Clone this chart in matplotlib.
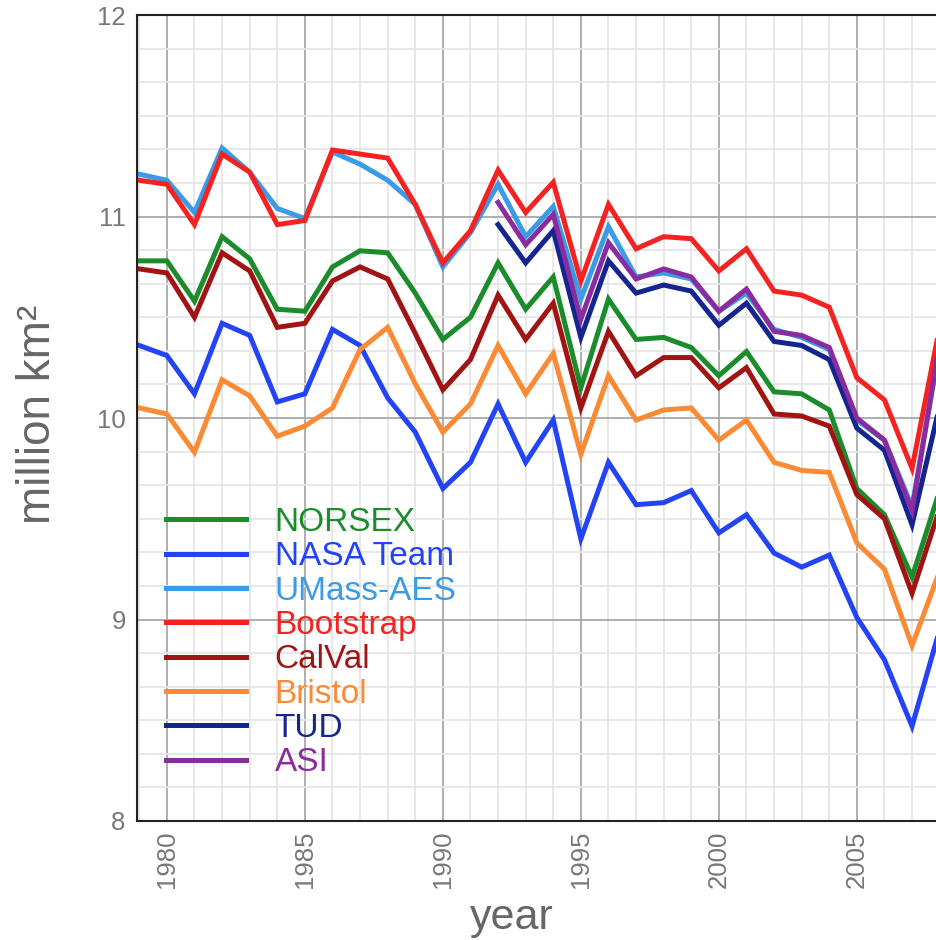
import numpy as np
import matplotlib
matplotlib.use("Agg")
from matplotlib import pyplot as plt
from matplotlib.ticker import MultipleLocator

plt.rcParams['font.family'] = ['Liberation Sans', 'DejaVu Sans']

# sea ice extent, million km2
years = np.arange(1979, 2009)
years_late = np.arange(1992, 2009)

norsex = [10.78, 10.78, 10.58, 10.90, 10.79, 10.54, 10.53, 10.75, 10.83, 10.82,
          10.62, 10.39, 10.50, 10.77, 10.54, 10.70, 10.15, 10.59, 10.39, 10.40,
          10.35, 10.21, 10.33, 10.13, 10.12, 10.04, 9.65, 9.52, 9.21, 9.64]
nasa_team = [10.36, 10.31, 10.12, 10.47, 10.41, 10.08, 10.12, 10.44, 10.36, 10.10,
             9.93, 9.65, 9.78, 10.07, 9.78, 9.99, 9.40, 9.78, 9.57, 9.58,
             9.64, 9.43, 9.52, 9.33, 9.26, 9.32, 9.01, 8.80, 8.47, 8.95]
umass_aes = [11.21, 11.18, 11.02, 11.34, 11.22, 11.04, 10.99, 11.32, 11.26, 11.18,
             11.06, 10.75, 10.92, 11.16, 10.90, 11.05, 10.59, 10.95, 10.70, 10.72,
             10.69, 10.53, 10.62, 10.44, 10.40, 10.34, 9.99, 9.89, 9.56, 10.35]
bootstrap = [11.18, 11.16, 10.96, 11.31, 11.22, 10.96, 10.98, 11.33, 11.31, 11.29,
             11.06, 10.77, 10.93, 11.23, 11.02, 11.17, 10.68, 11.06, 10.84, 10.90,
             10.89, 10.73, 10.84, 10.63, 10.61, 10.55, 10.20, 10.09, 9.75, 10.45]
calval = [10.74, 10.72, 10.50, 10.82, 10.73, 10.45, 10.47, 10.68, 10.75, 10.69,
          10.42, 10.14, 10.29, 10.61, 10.39, 10.57, 10.05, 10.43, 10.21, 10.30,
          10.30, 10.15, 10.25, 10.02, 10.01, 9.96, 9.62, 9.50, 9.13, 9.55]
bristol = [10.05, 10.02, 9.83, 10.19, 10.11, 9.91, 9.96, 10.05, 10.34, 10.45,
           10.17, 9.93, 10.07, 10.36, 10.12, 10.32, 9.82, 10.21, 9.99, 10.04,
           10.05, 9.89, 9.99, 9.78, 9.74, 9.73, 9.38, 9.25, 8.87, 9.24]
tud = [10.96, 10.77, 10.93, 10.40, 10.78, 10.62, 10.66, 10.63, 10.46, 10.57,
       10.38, 10.36, 10.29, 9.95, 9.84, 9.47, 10.06]
asi = [11.07, 10.86, 11.01, 10.49, 10.87, 10.69, 10.74, 10.70, 10.53, 10.64,
       10.43, 10.41, 10.35, 10.00, 9.89, 9.54, 10.37]

series = [
    ("NORSEX", years, norsex, "#1b8c2b"),
    ("NASA Team", years, nasa_team, "#2344f5"),
    ("UMass-AES", years, umass_aes, "#3a9be6"),
    ("Bootstrap", years, bootstrap, "#f52222"),
    ("CalVal", years, calval, "#a11414"),
    ("Bristol", years, bristol, "#fb8a35"),
    ("TUD", years_late, tud, "#152590"),
    ("ASI", years_late, asi, "#8a2ba0"),
]

fig = plt.figure(figsize=(9.37, 9.40), dpi=100)
# the axes runs past the right edge of the figure
ax = fig.add_axes([0.146, 0.1266, 0.901, 0.8574])

for name, xs, ys, col in series:
    ax.plot(xs, ys, color=col, lw=3.6, label=name, solid_joinstyle='miter')

ax.set_xlim(1978.91, 2009.5)
ax.set_ylim(8, 12)

ax.xaxis.set_major_locator(MultipleLocator(5))
ax.xaxis.set_minor_locator(MultipleLocator(1))
ax.yaxis.set_major_locator(MultipleLocator(1))
ax.yaxis.set_minor_locator(MultipleLocator(1 / 6))

ax.grid(which='major', color='#a8a8a8', lw=1.3)
ax.grid(which='minor', color='#e6e6e6', lw=1.3)
ax.set_axisbelow(True)

ax.tick_params(which='both', length=0)
ax.tick_params(axis='y', labelsize=18.5, labelcolor='#777777', pad=8)
ax.tick_params(axis='x', labelsize=18.5, labelcolor='#777777', pad=7, labelrotation=90)

for side in ['left', 'bottom', 'top']:
    ax.spines[side].set_linewidth(1.5)
    ax.spines[side].set_color('#222222')
ax.spines['right'].set_visible(False)

ax.set_xlabel("year", fontsize=31, color='#666666', va='center')
ax.xaxis.set_label_coords(0.444, -0.12)
ax.set_ylabel("million km²", fontsize=33, color='#666666', va='center')
ax.yaxis.set_label_coords(-0.117, 0.505)

ax.legend(loc='lower left', bbox_to_anchor=(0.035, 0.053), frameon=False,
          fontsize=24, labelcolor='linecolor', handlelength=2.4,
          handletextpad=0.85, labelspacing=0.1, borderpad=0, borderaxespad=0)

fig.savefig("out.png", dpi=100)
